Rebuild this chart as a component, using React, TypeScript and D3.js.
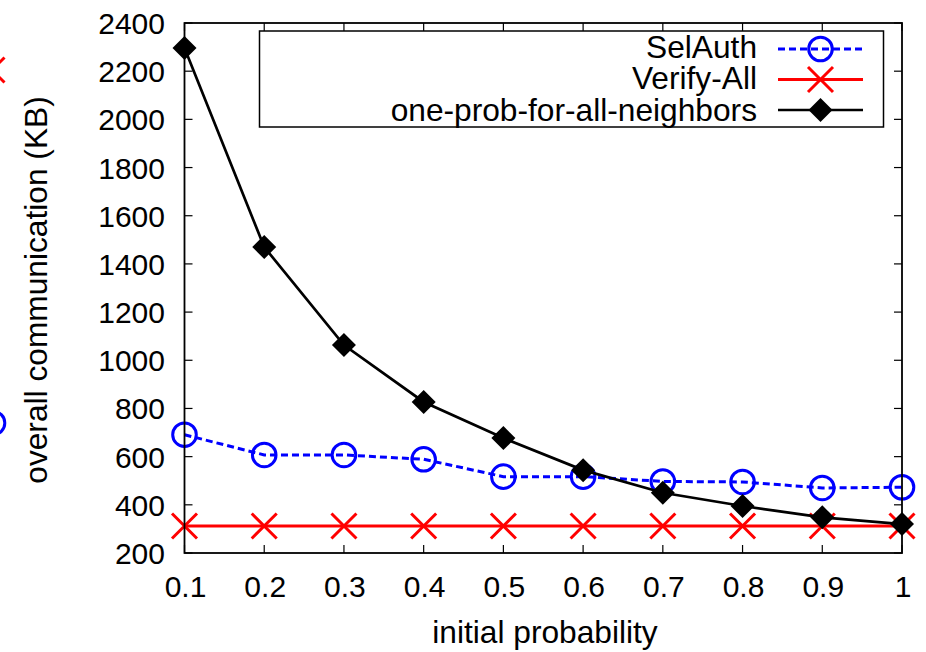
import React from "react";
import * as d3 from "d3";

const probabilities = [0.1, 0.2, 0.3, 0.4, 0.5, 0.6, 0.7, 0.8, 0.9, 1];
const xTickLabels = ["0.1", "0.2", "0.3", "0.4", "0.5", "0.6", "0.7", "0.8", "0.9", "1"];
const yTicks = [200, 400, 600, 800, 1000, 1200, 1400, 1600, 1800, 2000, 2200, 2400];
const selAuth = [691, 607, 607, 589, 517, 517, 497, 495, 470, 473];
const verifyAll = [312, 312, 312, 312, 312, 312, 312, 312, 312, 312];
const oneProb = [2296, 1470, 1063, 827, 677, 544, 450, 395, 348, 320];
const seriesNames = ["SelAuth", "Verify-All", "one-prob-for-all-neighbors"];

const W = 926;
const H = 652;
const left = 184.5;
const right = 902;
const top = 23;
const bottom = 553;
const FONT = "'Liberation Sans', Arial, Helvetica, sans-serif";
const FS = 30;
const FS2 = 31.7;

const x = d3.scaleLinear().domain([0.1, 1]).range([left, right]);
const y = d3.scaleLinear().domain([200, 2400]).range([bottom, top]);

function Circle({ cx, cy }: { cx: number; cy: number }) {
  return <circle cx={cx} cy={cy} r={11.8} fill="none" stroke="#0000ff" strokeWidth={3} />;
}
function Cross({ cx, cy }: { cx: number; cy: number }) {
  const s = 12.5;
  return (
    <path
      d={`M${cx - s},${cy - s}L${cx + s},${cy + s}M${cx - s},${cy + s}L${cx + s},${cy - s}`}
      stroke="#ff0000"
      strokeWidth={3}
      fill="none"
    />
  );
}
function Diamond({ cx, cy }: { cx: number; cy: number }) {
  const s = 12;
  return <path d={`M${cx},${cy - s}L${cx + s},${cy}L${cx},${cy + s}L${cx - s},${cy}Z`} fill="#000" />;
}

export default function App() {
  const line = d3
    .line<number>()
    .x((_, i) => x(probabilities[i]))
    .y((d) => y(d));

  const legendRows = [46, 77.5, 109];
  const legTextX = 757;
  const legL1 = 778;
  const legL2 = 863;
  const legMid = (legL1 + legL2) / 2;

  return (
    <svg
      width={W}
      height={H}
      style={{ position: "absolute", left: 0, top: 0, background: "#fff" }}
      fontFamily={FONT}
    >
      <rect x={0} y={0} width={W} height={H} fill="#fff" />
      {/* fragments of a neighbouring plot at the left edge */}
      <Cross cx={-8} cy={70} />
      <Circle cx={-7} cy={423} />

      {/* y ticks */}
      {yTicks.map((t) => (
        <g key={"y" + t}>
          <line x1={left} x2={left + 8} y1={y(t)} y2={y(t)} stroke="#000" strokeWidth={1.2} />
          <line x1={right} x2={right - 8} y1={y(t)} y2={y(t)} stroke="#000" strokeWidth={1.2} />
          <text x={165} y={y(t) + 11} textAnchor="end" fontSize={FS} fill="#000">
            {t}
          </text>
        </g>
      ))}
      {/* x ticks */}
      {probabilities.map((p, i) => (
        <g key={"x" + p}>
          <line x1={x(p)} x2={x(p)} y1={bottom} y2={bottom - 8} stroke="#000" strokeWidth={1.2} />
          <line x1={x(p)} x2={x(p)} y1={top} y2={top + 8} stroke="#000" strokeWidth={1.2} />
          <text x={x(p) + 1} y={597} textAnchor="middle" fontSize={FS} fill="#000">
            {xTickLabels[i]}
          </text>
        </g>
      ))}

      {/* legend box */}
      <rect x={259.5} y={31} width={624} height={96} fill="#fff" stroke="#000" strokeWidth={1.5} />

      {/* series */}
      <path d={line(verifyAll) || ""} fill="none" stroke="#ff0000" strokeWidth={3} />
      {verifyAll.map((v, i) => (
        <Cross key={"v" + i} cx={x(probabilities[i])} cy={y(v)} />
      ))}
      <path d={line(selAuth) || ""} fill="none" stroke="#0000ff" strokeWidth={3} strokeDasharray="7,4" />
      {selAuth.map((v, i) => (
        <Circle key={"s" + i} cx={x(probabilities[i])} cy={y(v)} />
      ))}
      <path d={line(oneProb) || ""} fill="none" stroke="#000" strokeWidth={2.7} />
      {oneProb.map((v, i) => (
        <Diamond key={"o" + i} cx={x(probabilities[i])} cy={y(v)} />
      ))}

      {/* frame */}
      <rect x={left} y={top} width={right - left} height={bottom - top} fill="none" stroke="#000" strokeWidth={1.8} />

      {/* legend entries */}
      {seriesNames.map((name, i) => (
        <text key={name} x={legTextX} y={legendRows[i] + 11.5} textAnchor="end" fontSize={FS2} fill="#000">
          {name}
        </text>
      ))}
      <line x1={legL1} x2={legL2} y1={legendRows[0] + 3} y2={legendRows[0] + 3} stroke="#0000ff" strokeWidth={3} strokeDasharray="7,4" />
      <Circle cx={legMid} cy={legendRows[0] + 3} />
      <line x1={legL1} x2={legL2} y1={legendRows[1] + 2} y2={legendRows[1] + 2} stroke="#ff0000" strokeWidth={3} />
      <Cross cx={legMid} cy={legendRows[1] + 2} />
      <line x1={legL1} x2={legL2} y1={legendRows[2] + 1} y2={legendRows[2] + 1} stroke="#000" strokeWidth={2.7} />
      <Diamond cx={legMid} cy={legendRows[2] + 1} />

      {/* axis titles */}
      <text
        transform={`translate(47,290) rotate(-90)`}
        textAnchor="middle"
        fontSize={FS2}
        fill="#000"
      >
        overall communication (KB)
      </text>
      <text x={545} y={643} textAnchor="middle" fontSize={FS2} fill="#000">
        initial probability
      </text>
    </svg>
  );
}
